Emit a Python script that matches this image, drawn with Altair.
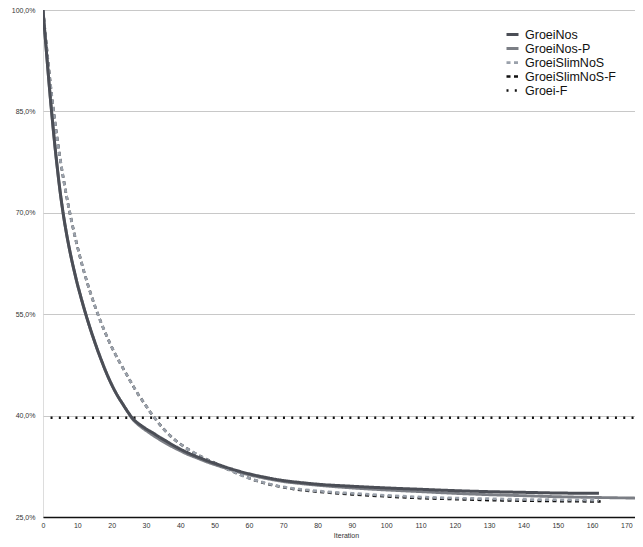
import altair as alt
import pandas as pd

series_names = ["GroeiNos", "GroeiNos-P", "GroeiSlimNoS", "GroeiSlimNoS-F", "Groei-F"]
series_colors = ["#4b4e56", "#7b7e85", "#9aa1ab", "#111111", "#111111"]
series_dash = [[1, 0], [1, 0], [4, 3.5], [4, 3.5], [2, 6.3]]
series_width = [3, 2.5, 3, 3, 2.5]

groeinos_t = [0, 1, 2, 3, 4, 5, 6, 7, 8, 9, 10, 11, 12, 13, 14, 15, 16, 17, 18, 19, 20,
              21, 22, 23, 24, 25, 26, 27, 28, 29, 30, 32, 34, 36, 38, 40, 42, 44, 46, 48, 50,
              55, 60, 65, 70, 75, 80, 90, 100, 110, 120, 130, 140, 150, 162]
groeinos_v = [100, 93.8, 87.8, 82.3, 77.4, 73.1, 69.5, 66.5, 63.9, 61.6, 59.5, 57.6, 55.8, 54.1, 52.5, 51.0, 49.55, 48.2, 46.9, 45.7, 44.6,
              43.6, 42.7, 41.9, 41.1, 40.35, 39.65, 39.15, 38.75, 38.4, 38.05, 37.45, 36.8, 36.2, 35.6, 35.05, 34.55, 34.1, 33.7, 33.3, 32.95,
              32.1, 31.4, 30.85, 30.4, 30.1, 29.85, 29.55, 29.3, 29.1, 28.9, 28.75, 28.65, 28.55, 28.5]

groeinosp_t = [0, 1, 2, 3, 4, 5, 6, 7, 8, 9, 10, 11, 12, 13, 14, 15, 16, 17, 18, 19, 20,
               21, 22, 23, 24, 25, 26, 27, 28, 29, 30, 32, 34, 36, 38, 40, 42, 44, 46, 48, 50,
               55, 60, 65, 70, 75, 80, 90, 100, 110, 120, 130, 140, 150, 160, 172.5]
groeinosp_v = [100, 93.8, 87.8, 82.3, 77.4, 73.1, 69.5, 66.5, 63.9, 61.6, 59.5, 57.6, 55.8, 54.1, 52.5, 51.0, 49.55, 48.2, 46.9, 45.7, 44.6,
               43.6, 42.7, 41.9, 41.1, 40.3, 39.55, 39.0, 38.55, 38.15, 37.8, 37.1, 36.45, 35.85, 35.3, 34.8, 34.3, 33.9, 33.5, 33.1, 32.75,
               31.95, 31.25, 30.7, 30.25, 29.95, 29.7, 29.3, 29.0, 28.75, 28.5, 28.3, 28.15, 28.0, 27.9, 27.8]

slim_t = [0, 1, 2, 3, 4, 5, 6, 7, 8, 9, 10, 11, 12, 13, 14, 15, 16, 17, 18, 19, 20,
          21, 22, 23, 24, 25, 26, 27, 28, 29, 30, 31, 32, 33, 34, 35, 36, 37, 38, 40, 42, 44, 46, 48, 50,
          55, 60, 65, 70, 75, 80, 90, 100, 110, 120, 130, 140, 150, 162]
slim_v = [100, 94.8, 89.8, 85.4, 81.5, 78.0, 74.9, 72.1, 69.55, 67.2, 65.05, 63.05, 61.2, 59.48, 57.88, 56.38, 54.98, 53.66, 52.42, 51.26, 50.17,
          49.15, 48.2, 47.3, 46.4, 45.5, 44.6, 43.75, 42.95, 42.2, 41.45, 40.7, 40.0, 39.35, 38.7, 38.1, 37.55, 37.05, 36.6, 35.8, 35.1, 34.5, 33.95, 33.45, 33.0,
          31.8, 30.75, 30.0, 29.45, 29.1, 28.85, 28.5, 28.2, 27.95, 27.8, 27.7, 27.6, 27.55, 27.5]

slimf_t = [0, 1, 2, 3, 4, 5, 6, 7, 8, 9, 10, 11, 12, 13, 14, 15, 16, 17, 18, 19, 20,
           21, 22, 23, 24, 25, 26, 27, 28, 29, 30, 31, 32, 33, 34, 35, 36, 37, 38, 40, 42, 44, 46, 48, 50,
           55, 60, 65, 70, 75, 80, 90, 100, 110, 120, 130, 140, 150, 162.5]
slimf_v = [100, 94.8, 89.8, 85.4, 81.5, 78.0, 74.9, 72.1, 69.55, 67.2, 65.05, 63.05, 61.2, 59.48, 57.88, 56.38, 54.98, 53.66, 52.42, 51.26, 50.17,
           49.15, 48.2, 47.3, 46.4, 45.5, 44.6, 43.75, 42.95, 42.2, 41.45, 40.7, 40.0, 39.35, 38.7, 38.1, 37.55, 37.05, 36.6, 35.8, 35.1, 34.5, 33.95, 33.45, 33.0,
           31.8, 30.75, 29.95, 29.4, 29.0, 28.75, 28.35, 28.05, 27.8, 27.65, 27.5, 27.42, 27.36, 27.3]

groeif_t = [2.2, 172.5]
groeif_v = [39.7, 39.7]

y_ticks = [25, 40, 55, 70, 85, 100]
x_ticks = [0, 10, 20, 30, 40, 50, 60, 70, 80, 90, 100, 110, 120, 130, 140, 150, 160, 170]

rows = []
for name, ts, vs in [
    ("GroeiNos", groeinos_t, groeinos_v),
    ("GroeiNos-P", groeinosp_t, groeinosp_v),
    ("GroeiSlimNoS", slim_t, slim_v),
    ("GroeiSlimNoS-F", slimf_t, slimf_v),
    ("Groei-F", groeif_t, groeif_v),
]:
    for t, v in zip(ts, vs):
        rows.append({"series": name, "iteration": t, "value": v})
df = pd.DataFrame(rows)

base = alt.Chart(df).mark_line(interpolate="monotone", strokeCap="butt", clip=True).encode(
    x=alt.X("iteration:Q", title="Iteration",
            scale=alt.Scale(domain=[0, 172.5], nice=False, zero=False),
            axis=alt.Axis(values=x_ticks, grid=False, ticks=False, domain=True,
                          domainColor="#111111", domainWidth=1.5, labelFontSize=7,
                          labelColor="#333333", labelPadding=4, titleFontSize=7,
                          titleFontWeight="normal", titleColor="#333333", titlePadding=3,
                          titleX=303, labelFlush=False)),
    y=alt.Y("value:Q", title=None,
            scale=alt.Scale(domain=[25, 100], nice=False, zero=False),
            axis=alt.Axis(values=y_ticks, grid=True, gridColor="#c8c8c8", ticks=False,
                          domain=False, labelFontSize=7, labelColor="#333333", labelPadding=8,
                          labelExpr="replace(format(datum.value, '.1f'), '.', ',') + '%'")),
    color=alt.Color("series:N", title=None,
                    scale=alt.Scale(domain=series_names, range=series_colors)),
    strokeDash=alt.StrokeDash("series:N", title=None,
                              scale=alt.Scale(domain=series_names, range=series_dash)),
    strokeWidth=alt.StrokeWidth("series:N", title=None,
                                scale=alt.Scale(domain=series_names, range=series_width)),
)

draw_order = ["Groei-F", "GroeiNos-P", "GroeiSlimNoS-F", "GroeiSlimNoS", "GroeiNos"]
layers = [base.transform_filter(alt.datum.series == s) for s in draw_order]

chart = alt.layer(*layers).properties(
    width=592, height=507,
    autosize=alt.AutoSizeParams(type="none"),
    padding={"top": 2, "left": 35, "right": 0, "bottom": 22},
).configure_view(strokeOpacity=0).configure(
    font="Liberation Sans"
).configure_legend(
    orient="none", legendX=462, legendY=17, symbolType="stroke", symbolSize=144,
    labelFontSize=12.5, labelColor="#111111", labelOffset=5, rowPadding=-1.5,
    symbolStrokeWidth=2.5,
)

chart.save("out.html", embed_options={"renderer": "svg", "actions": False})
